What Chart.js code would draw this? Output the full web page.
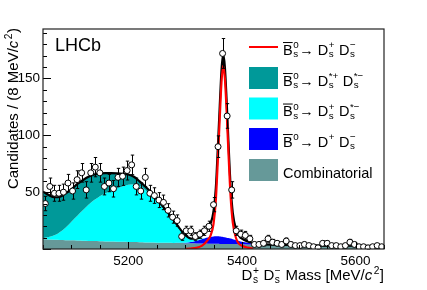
<!DOCTYPE html>
<html>
<head>
<meta charset="utf-8">
<script src="https://cdn.jsdelivr.net/npm/chart.js@4/dist/chart.umd.min.js"></script>
<style>
  html, body { margin: 0; padding: 0; background: #fff; }
  canvas { display: block; }
</style>
</head>
<body>
<canvas id="chart" width="427" height="290"></canvas>
<script>
// ---- data ----
const massLow = 5050;
const massHigh = 5650;
const binWidth = 8;

// candidates per 8 MeV bin, 5050 -> 5650
const counts = [
  40, 55, 49, 49, 50, 58, 51, 61, 67, 52,
  67, 72, 67, 55, 58, 53, 63, 64, 69, 74,
  55, 51, 63, 49, 47, 43, 41, 34, 28, 25,
  11, 16, 16, 11, 13, 16, 20, 39, 90, 172,
  117, 52, 16, 13, 12, 9, 4, 4, 5, 9,
  6, 5, 4, 7, 4, 3, 3, 4, 3, 2,
  1, 5, 5, 3, 3, 2, 3, 6, 4, 2,
  2, 1, 2, 3, 2
];

// mass points where the fit curves were read
const fitMass = [
  5050, 5060, 5070, 5080, 5090, 5100, 5110, 5120, 5130, 5140,
  5150, 5160, 5170, 5180, 5190, 5200, 5210, 5220, 5230, 5240,
  5250, 5260, 5270, 5280, 5290, 5300, 5310, 5320, 5330, 5335,
  5340, 5345, 5350, 5354, 5358, 5361, 5364, 5367, 5370, 5373,
  5376, 5380, 5384, 5390, 5395, 5400, 5410, 5420, 5430, 5440,
  5460, 5480, 5500, 5550, 5600, 5650
];

// fit components (each one on its own, not stacked)
const combinatorial = [
  8.5, 8.3, 8.1, 7.9, 7.8, 7.6, 7.4, 7.3, 7.1, 7.0,
  6.8, 6.7, 6.6, 6.4, 6.3, 6.2, 6.1, 6.0, 5.8, 5.7,
  5.6, 5.5, 5.4, 5.3, 5.2, 5.1, 5.0, 4.9, 4.8, 4.75,
  4.7, 4.65, 4.6, 4.57, 4.53, 4.5, 4.48, 4.45, 4.43, 4.4,
  4.38, 4.35, 4.3, 4.25, 4.2, 4.1, 4.05, 4.0, 3.9, 3.85,
  3.7, 3.55, 3.4, 3.05, 2.75, 2.45
];
const bdDs = [
  0, 0, 0, 0, 0, 0, 0, 0, 0, 0,
  0, 0, 0, 0, 0, 0, 0, 0, 0, 0,
  0, 0, 0, 0, 0.2, 0.5, 1.2, 2.3, 4.0, 4.8,
  5.5, 6.0, 6.4, 6.6, 6.6, 6.5, 6.3, 6.1, 5.8, 5.5,
  5.2, 4.8, 4.3, 3.5, 2.9, 2.3, 1.4, 0.8, 0.4, 0.2,
  0, 0, 0, 0, 0, 0
];
const dsDsStar = [
  1.0, 2.2, 3.9, 7.1, 11.2, 16.4, 21.6, 26.7, 31.9, 36.0,
  39.7, 42.3, 44.4, 46.6, 48.7, 50.3, 50.9, 49.5, 46.2, 41.8,
  36.4, 31.0, 25.6, 19.2, 12.6, 6.4, 2.5, 0.8, 0.3, 0.1,
  0, 0, 0, 0, 0, 0, 0, 0, 0, 0,
  0, 0, 0, 0, 0, 0, 0, 0, 0, 0,
  0, 0, 0, 0, 0, 0
];
const dsStarDsStar = [
  41, 37, 33.5, 31, 30, 28.5, 28, 26.5, 24.5, 22.5,
  20, 17.8, 15.8, 13.6, 11.2, 9, 6.5, 4, 3, 2.5,
  2, 1.5, 1, 0.7, 0.4, 0.3, 0.1, 0, 0, 0,
  0, 0, 0, 0, 0, 0, 0, 0, 0, 0,
  0, 0, 0, 0, 0, 0, 0, 0, 0, 0,
  0, 0, 0, 0, 0, 0
];
const signal = [
  null, null, null, null, null, null, null, null, null, null,
  null, null, null, null, null, null, null, null, null, null,
  null, null, null, null, null, 0.1, 0.4, 1.0, 3, 5,
  8, 12, 22, 42, 82, 115, 146, 161, 150, 122,
  88, 47, 23, 9, 4.5, 2.8, 1.2, 0.4, null, null,
  null, null, null, null, null, null
];

const yTickLabels = [50, 100, 150];
const xTickLabels = [5200, 5400, 5600];

// ---- build the stacked tops ----
const binCenters = counts.map((_, i) => massLow + binWidth * (i + 0.5));

const stackTop = (layers) =>
  fitMass.map((m, i) => ({ x: m, y: layers.reduce((s, l) => s + (l[i] || 0), 0) }));

const combTop = stackTop([combinatorial]);
const bdTop = stackTop([combinatorial, bdDs]);
const dsStarTop = stackTop([combinatorial, bdDs, dsDsStar]);
const bkgTop = stackTop([combinatorial, bdDs, dsDsStar, dsStarDsStar]);
const total = stackTop([combinatorial, bdDs, dsDsStar, dsStarDsStar, signal]);
const sigLine = fitMass
  .map((m, i) => signal[i] == null ? null : { x: m, y: signal[i] })
  .filter(Boolean);

// ---- drawing helpers ----
const FONT = '"Liberation Sans", Arial, Helvetica, sans-serif';
const font = (size, it) => `${it ? 'italic ' : ''}${size}px ${FONT}`;

// parts: "text" | {t, it} | {bar} | {sup, sub}
const rich = (ctx, parts, x, y, size, draw = true) => {
  let cx = x;
  const small = size * 0.68;
  for (const p of parts) {
    if (typeof p === 'string' || p.t !== undefined) {
      const t = typeof p === 'string' ? p : p.t;
      ctx.font = font(size, p.it);
      const w = ctx.measureText(t).width;
      if (draw) ctx.fillText(t, cx, y);
      cx += w + (p.it ? 1 : 0);
    } else if (p.bar !== undefined) {
      ctx.font = font(size);
      const w = ctx.measureText(p.bar).width;
      if (draw) {
        ctx.fillText(p.bar, cx, y);
        ctx.fillRect(cx, y - size * 0.86, w, 1);
      }
      cx += w;
    } else {
      ctx.font = font(small);
      const ws = p.sup ? ctx.measureText(p.sup).width : 0;
      const wb = p.sub ? ctx.measureText(p.sub).width : 0;
      if (draw) {
        if (p.sup) ctx.fillText(p.sup, cx + 0.5, y - size * 0.42);
        if (p.sub) ctx.fillText(p.sub, cx + 0.5, y + size * 0.2);
      }
      cx += Math.max(ws, wb) + 1;
    }
  }
  return cx - x;
};

const bs = [{ bar: 'B' }, { sup: '0', sub: 's' }, '\u2192 '];
const legendRows = [
  { kind: 'line', color: '#ff0000', parts: [...bs, 'D', { sup: '+', sub: 's' }, ' D', { sup: '\u2212', sub: 's' }] },
  { kind: 'box', color: '#009999', parts: [...bs, 'D', { sup: '*+', sub: 's' }, ' D', { sup: '*\u2212', sub: 's' }] },
  { kind: 'box', color: '#00ffff', parts: [...bs, 'D', { sup: '+', sub: 's' }, ' D', { sup: '*\u2212', sub: 's' }] },
  { kind: 'box', color: '#0000ff', parts: [{ bar: 'B' }, { sup: '0' }, '\u2192 D', { sup: '+' }, ' D', { sup: '\u2212', sub: 's' }] },
  { kind: 'box', color: '#669999', parts: ['Combinatorial'] }
];

const decor = {
  id: 'decor',
  beforeDatasetDraw(chart, args) {
    if (args.index !== 0) return;
    // error bars under the data markers
    const { ctx, scales: { x, y } } = chart;
    ctx.save();
    ctx.strokeStyle = '#000';
    ctx.lineWidth = 1;
    counts.forEach((n, i) => {
      if (!n) return;
      const e = Math.sqrt(n);
      const px = Math.round(x.getPixelForValue(binCenters[i])) + 0.5;
      const y1 = y.getPixelForValue(n - e);
      const y2 = y.getPixelForValue(n + e);
      ctx.beginPath();
      ctx.moveTo(px, y1); ctx.lineTo(px, y2);
      ctx.moveTo(px - 1.7, y1); ctx.lineTo(px + 1.7, y1);
      ctx.moveTo(px - 1.7, y2); ctx.lineTo(px + 1.7, y2);
      ctx.stroke();
    });
    ctx.restore();
  },
  afterDraw(chart) {
    const { ctx, chartArea: a, scales: { x, y } } = chart;
    ctx.save();
    ctx.strokeStyle = '#000';
    ctx.fillStyle = '#000';
    ctx.lineWidth = 1;

    // inward ticks
    ctx.beginPath();
    for (let v = 0; v <= y.max; v += 10) {
      const py = Math.round(y.getPixelForValue(v)) + 0.5;
      ctx.moveTo(a.left, py);
      ctx.lineTo(a.left + (v % 50 === 0 ? 8 : 4), py);
    }
    for (let v = x.min; v <= x.max; v += 50) {
      const px = Math.round(x.getPixelForValue(v)) + 0.5;
      ctx.moveTo(px, a.bottom);
      ctx.lineTo(px, a.bottom - (v % 200 === 0 ? 7 : 4));
    }
    ctx.stroke();

    // frame
    ctx.lineWidth = 1.2;
    ctx.strokeStyle = '#222';
    ctx.strokeRect(a.left, a.top, a.right - a.left, a.bottom - a.top);

    // LHCb
    ctx.font = font(18);
    ctx.textBaseline = 'alphabetic';
    ctx.fillText('LHCb', 55, 51);

    // legend
    const rowY = [47, 78, 108.5, 139, 170];
    legendRows.forEach((r, i) => {
      const cy = rowY[i];
      if (r.kind === 'line') {
        ctx.fillStyle = r.color;
        ctx.fillRect(249, cy - 1, 29, 2);
      } else {
        ctx.fillStyle = r.color;
        ctx.fillRect(249, cy - 11, 29, 22);
      }
      ctx.fillStyle = '#000';
      rich(ctx, r.parts, 283, cy + 7.5, 14.5);
    });

    // x title, right aligned
    const xt = ['D', { sup: '+', sub: 's' }, ' D', { sup: '\u2212', sub: 's' }, ' Mass [MeV/', { t: 'c', it: true }, { sup: '2' }, ']'];
    const wx = rich(ctx, xt, 0, 0, 15, false);
    rich(ctx, xt, 384 - wx, 280, 15);

    // y title, rotated, ending at the top of the frame
    const yt = ['Candidates / (8 MeV/', { t: 'c', it: true }, { sup: '2' }, ')'];
    const wy = rich(ctx, yt, 0, 0, 15, false);
    ctx.translate(18, 28 + wy);
    ctx.rotate(-Math.PI / 2);
    rich(ctx, yt, 0, 0, 15);
    ctx.restore();
  }
};

const curve = (data, color, width) => ({
  data,
  borderColor: color,
  borderWidth: width,
  pointRadius: 0,
  fill: false,
  cubicInterpolationMode: 'monotone'
});
const layer = (data, color, fill) => ({
  data,
  borderColor: 'rgba(0,0,0,0)',
  borderWidth: 0,
  backgroundColor: color,
  pointRadius: 0,
  fill,
  cubicInterpolationMode: 'monotone'
});

new Chart(document.getElementById('chart'), {
  type: 'line',
  data: {
    // first dataset is painted last (on top)
    datasets: [
      {
        data: counts.map((n, i) => ({ x: binCenters[i], y: n })),
        showLine: false,
        pointRadius: 3,
        pointBackgroundColor: '#fff',
        pointBorderColor: '#000',
        pointBorderWidth: 1
      },
      curve(sigLine, '#ff0000', 2.2),
      curve(total, '#000', 2.2),
      layer(bkgTop, '#009999', '+1'),
      layer(dsStarTop, '#00ffff', '+1'),
      layer(bdTop, '#0000ff', '+1'),
      layer(combTop, '#669999', 'origin')
    ]
  },
  options: {
    responsive: false,
    devicePixelRatio: 1,
    animation: false,
    layout: { padding: { top: 29, right: 43, left: 0, bottom: 0 } },
    plugins: { legend: { display: false }, tooltip: { enabled: false } },
    scales: {
      x: {
        type: 'linear',
        min: massLow,
        max: massHigh,
        grid: { display: false, drawTicks: false },
        border: { display: false },
        afterBuildTicks: s => { s.ticks = xTickLabels.map(v => ({ value: v })); },
        afterFit: s => { s.height = 41; },
        ticks: {
          autoSkip: false, maxRotation: 0, padding: 4, color: '#000',
          font: { family: FONT, size: 13.5 },
          callback: v => String(v)
        }
      },
      y: {
        min: 0,
        max: 193.5,
        grid: { display: false, drawTicks: false },
        border: { display: false },
        afterBuildTicks: s => { s.ticks = yTickLabels.map(v => ({ value: v })); },
        afterFit: s => { s.width = 43; },
        ticks: { padding: 3, color: '#000', font: { family: FONT, size: 13.5 }, callback: v => String(v) }
      }
    }
  },
  plugins: [decor]
});
</script>
</body>
</html>
